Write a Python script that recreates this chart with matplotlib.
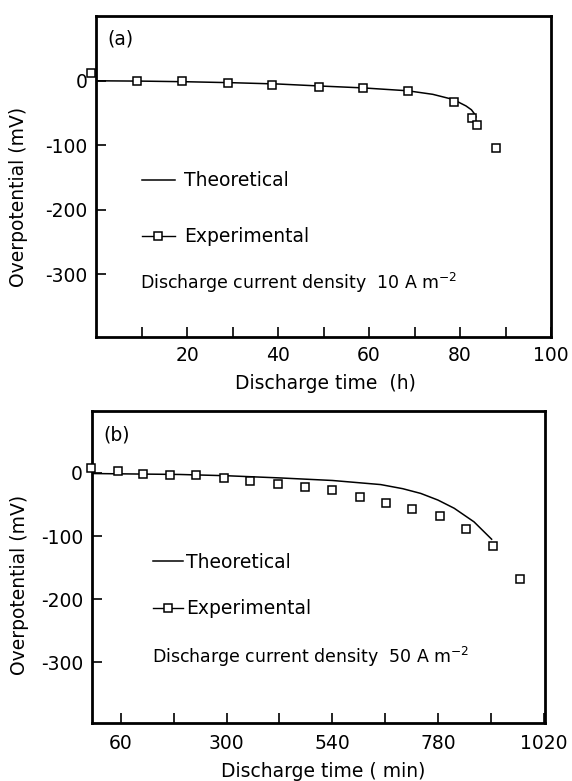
import matplotlib
matplotlib.use("Agg")
import matplotlib.pyplot as plt
from matplotlib.lines import Line2D
from matplotlib.ticker import FixedLocator

plt.rcParams["font.family"] = ["DejaVu Sans"]
plt.rcParams["axes.unicode_minus"] = False

# ---- panel (a): 10 A m-2, time in h ----
exp_a_t = [-1.1, 8.9, 18.9, 28.9, 38.7, 48.9, 58.7, 68.6, 78.6, 82.7, 83.7, 87.9]
exp_a_v = [12, 0, 0, -4, -7, -9.5, -10.8, -15.6, -33, -58.5, -68, -104]
theo_a_t = [0, 10, 20, 30, 40, 48.9, 58.6, 68.5, 74, 78.5, 81.3, 82.5, 83.1, 83.5]
theo_a_v = [0, -0.5, -1.5, -3, -5, -8, -11, -15.5, -21, -29, -39, -45, -50.6, -56]

# ---- panel (b): 50 A m-2, time in min ----
exp_b_t = [-8, 53, 111, 171, 231, 293, 353, 416, 477, 540, 602, 663, 722, 784, 844, 905, 967]
exp_b_v = [7.5, 3, -1.5, -3.6, -3.6, -8.5, -12.8, -16.8, -22, -27.5, -37.5, -47.5,
           -57.5, -68, -88.5, -115.5, -168]
theo_b_t = [-6, 60, 194, 300, 422, 540, 650, 700, 741, 780, 817, 862, 902]
theo_b_v = [-1, -1.5, -2.5, -4.5, -8, -12, -18.5, -25, -32.5, -43, -56, -77.5, -105]

W, H = 572, 781
fig = plt.figure(figsize=(W / 100, H / 100), dpi=100)


def px_rect(l, t, r, b):
    return [l / W, (H - b) / H, (r - l) / W, (b - t) / H]


def style_axes(ax, major, minor, ylim, xlim, xpad):
    ax.set_xlim(*xlim)
    ax.set_ylim(*ylim)
    ax.xaxis.set_major_locator(FixedLocator(major))
    ax.xaxis.set_minor_locator(FixedLocator(minor))
    ax.yaxis.set_major_locator(FixedLocator([0, -100, -200, -300]))
    ax.tick_params(axis="both", which="both", direction="in", length=7, width=1.2,
                   top=False, right=False, labelsize=13.5, colors="black")
    ax.tick_params(axis="x", pad=xpad)
    ax.tick_params(axis="y", pad=6.5)
    for s in ax.spines.values():
        s.set_linewidth(2.0)


panels = [
    dict(rect=px_rect(96.3, 15.7, 551, 337.3), tag="(a)", tagy=0.928,
         theo=(theo_a_t, theo_a_v), exp=(exp_a_t, exp_a_v),
         xlim=(0, 100), ylim=(-398, 101),
         major=[20, 40, 60, 80, 100], minor=[10, 30, 50, 70, 90], xpad=6.5,
         xlabel="Discharge time  (h)", xl=(0.503, -0.114), yl=(-0.150, 0.436),
         leg=(0.10, 0.516), hl=1.75, htp=0.5, ls=1.98,
         note="Discharge current density  10 A m$^{-2}$", notexy=(0.097, 0.150)),
    dict(rect=px_rect(92, 411, 545.3, 723), tag="(b)", tagy=0.923,
         theo=(theo_b_t, theo_b_v), exp=(exp_b_t, exp_b_v),
         xlim=(-6, 1024), ylim=(-396, 98),
         major=[60, 300, 540, 780, 1020], minor=[180, 420, 660, 900], xpad=8,
         xlabel="Discharge time ( min)", xl=(0.51, -0.125), yl=(-0.139, 0.442),
         leg=(0.1335, 0.545), hl=1.65, htp=0.15, ls=1.45,
         note="Discharge current density  50 A m$^{-2}$", notexy=(0.132, 0.191)),
]

for p in panels:
    ax = fig.add_axes(p["rect"])
    theo_line, = ax.plot(p["theo"][0], p["theo"][1], color="black", lw=1.1)
    ax.plot(p["exp"][0], p["exp"][1], ls="none", marker="s", ms=5.5, mfc="white",
            mec="black", mew=1.1, clip_on=False, zorder=3)
    style_axes(ax, p["major"], p["minor"], p["ylim"], p["xlim"], p["xpad"])

    ax.set_xlabel(p["xlabel"], fontsize=13.5)
    ax.xaxis.set_label_coords(*p["xl"])
    ax.set_ylabel("Overpotential (mV)", fontsize=13.5)
    ax.yaxis.set_label_coords(*p["yl"])

    ax.text(0.025, p["tagy"], p["tag"], transform=ax.transAxes, fontsize=13.5,
            ha="left", va="center")

    exp_handle = Line2D([], [], color="black", lw=1.0, marker="s", ms=5.5,
                        mfc="white", mec="black", mew=1.1)
    ax.legend([theo_line, exp_handle], ["Theoretical", "Experimental"],
              loc="upper left", bbox_to_anchor=p["leg"], frameon=False,
              borderpad=0, borderaxespad=0, handlelength=p["hl"],
              handletextpad=p["htp"], labelspacing=p["ls"], numpoints=1,
              fontsize=13.5)

    ax.text(p["notexy"][0], p["notexy"][1], p["note"], transform=ax.transAxes,
            fontsize=12.5, ha="left", va="baseline")

fig.savefig("out.png", dpi=100)
